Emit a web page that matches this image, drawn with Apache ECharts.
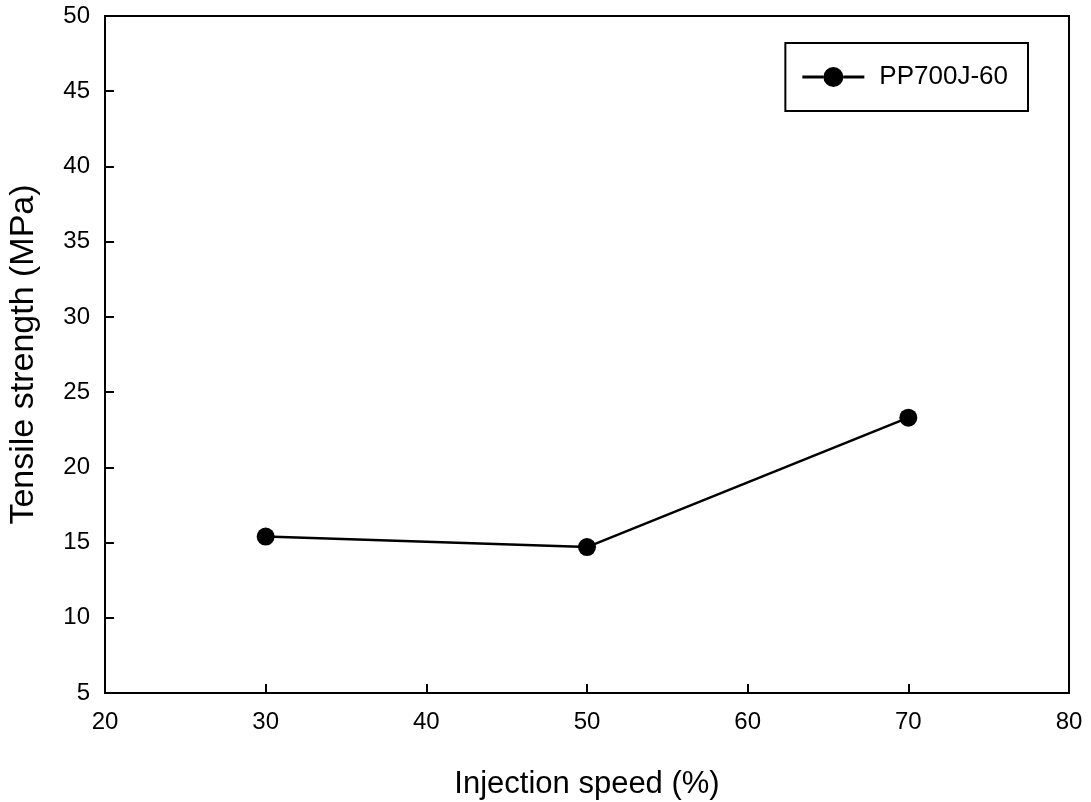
<!DOCTYPE html>
<html>
<head>
<meta charset="utf-8">
<script src="https://cdn.jsdelivr.net/npm/echarts@6/dist/echarts.min.js"></script>
<style>
  html, body { margin: 0; padding: 0; background: #fff; }
  #chart { width: 1091px; height: 802px; }
</style>
</head>
<body>
<div id="chart"></div>
<script>
// Injection speed (%) and tensile strength (MPa) for PP700J-60
const seriesName = 'PP700J-60';
const injectionSpeed = [30, 50, 70];
const tensileStrength = [15.4, 14.7, 23.3];

const FONT = '"Liberation Sans", Arial, sans-serif';
const points = injectionSpeed.map((x, i) => [x, tensileStrength[i]]);

// legend glyph: short line segments either side of a filled dot
const lineDotIcon = 'path://M0,7.5H21V10.5H0Z M41,7.5H62V10.5H41Z M21,9A10,10 0 1 1 41,9A10,10 0 1 1 21,9Z';

const chart = echarts.init(document.getElementById('chart'), null, { renderer: 'canvas' });

const axisCommon = {
  axisLine: { show: true, onZero: false, lineStyle: { color: '#000', width: 2 } },
  axisTick: { show: true, inside: true, length: 9, lineStyle: { color: '#000', width: 2 } },
  splitLine: { show: false },
  axisLabel: { color: '#000', fontFamily: FONT, fontSize: 24 }
};

chart.setOption({
  animation: false,
  backgroundColor: '#fff',
  grid: {
    left: 105, right: 22, top: 16, bottom: 109,
    outerBoundsMode: 'none',
    show: true, borderColor: '#000', borderWidth: 2, backgroundColor: 'transparent'
  },
  xAxis: Object.assign({}, axisCommon, {
    type: 'value', min: 20, max: 80, interval: 10,
    name: 'Injection speed (%)', nameLocation: 'middle', nameGap: 76,
    nameTextStyle: { color: '#000', fontFamily: FONT, fontSize: 31 },
    axisLabel: Object.assign({}, axisCommon.axisLabel, { margin: 17 })
  }),
  yAxis: Object.assign({}, axisCommon, {
    type: 'value', min: 5, max: 50, interval: 5,
    name: 'Tensile strength (MPa)', nameLocation: 'middle', nameGap: 64,
    nameTextStyle: { color: '#000', fontFamily: FONT, fontSize: 34 },
    axisLabel: Object.assign({}, axisCommon.axisLabel, { margin: 15 })
  }),
  legend: {
    right: 63, top: 43,
    padding: [21, 20, 21, 17],
    borderColor: '#000', borderWidth: 2,
    itemWidth: 62, itemHeight: 20,
    textStyle: { color: '#000', fontFamily: FONT, fontSize: 26, padding: [0, 0, 0, 10] },
    data: [{ name: seriesName, icon: lineDotIcon }]
  },
  series: [{
    name: seriesName,
    type: 'line',
    data: points,
    symbol: 'circle',
    symbolSize: 18,
    itemStyle: { color: '#000' },
    lineStyle: { color: '#000', width: 2.5 }
  }]
});
</script>
</body>
</html>
